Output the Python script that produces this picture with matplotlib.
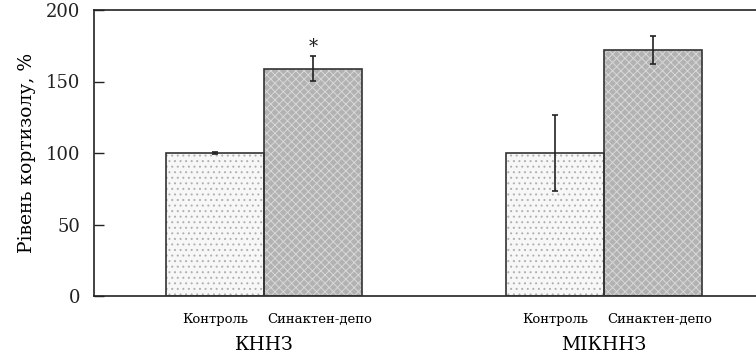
import numpy as np
import matplotlib.pyplot as plt

plt.rcParams['font.family'] = ['DejaVu Serif']
plt.rcParams['hatch.linewidth'] = 0.7

groups = ['КННЗ', 'МІКННЗ']
conditions = ['Контроль', 'Синактен-депо']
control_vals = [100, 100]
control_err = [0.6, 26.5]
depo_vals = [159, 172]
depo_err = [8.5, 9.5]
y_ticks = [0, 50, 100, 150, 200]

fig = plt.figure(figsize=(7.56, 3.58), dpi=100)
ax = fig.add_axes([94 / 756, 62 / 358, 680 / 756, 286 / 358])

x = np.arange(len(groups))
w = 0.288

# filled bars with pattern, then black outline on top
ax.bar(x - w / 2, control_vals, w, color='#f7f7f7', edgecolor='#b0b0b0',
       hatch='...', linewidth=0, zorder=2)
ax.bar(x + w / 2, depo_vals, w, color='#b2b2b2', edgecolor='#d8d8d8',
       hatch='xxxx', linewidth=0, zorder=2)
ax.bar(x - w / 2, control_vals, w, fill=False, edgecolor='#333333', linewidth=1.2, zorder=3)
ax.bar(x + w / 2, depo_vals, w, fill=False, edgecolor='#333333', linewidth=1.2, zorder=3)

ax.errorbar(x - w / 2, control_vals, yerr=control_err, fmt='none', ecolor='#222222',
            elinewidth=1.2, capsize=2, capthick=1.2, zorder=4)
ax.errorbar(x + w / 2, depo_vals, yerr=depo_err, fmt='none', ecolor='#222222',
            elinewidth=1.2, capsize=2, capthick=1.2, zorder=4)

# significance mark
ax.text(x[0] + w / 2, depo_vals[0] + depo_err[0], '*', ha='center', va='bottom',
        fontsize=13, color='#222222')

ax.set_xlim(-0.5, 1.5)
ax.set_ylim(0, 200)
ax.set_yticks(y_ticks)
ax.set_yticklabels([str(t) for t in y_ticks], fontsize=13)
ax.tick_params(axis='y', direction='in', length=7, width=1, pad=10, colors='#222222')
ax.set_ylabel('Рівень кортизолу, %', fontsize=13.5, labelpad=7)

# bar labels and group labels below axis
ax.set_xticks(np.concatenate([x - w / 2, x + w / 2 + 0.02]))
ax.set_xticklabels([conditions[0]] * len(groups) + [conditions[1]] * len(groups), fontsize=9.5)
ax.tick_params(axis='x', length=0, pad=12)
for i, g in enumerate(groups):
    ax.text(x[i], -0.14, g, transform=ax.get_xaxis_transform(), ha='center', va='top',
            fontsize=13.5)

for s in ['left', 'top', 'bottom']:
    ax.spines[s].set_linewidth(1.2)
    ax.spines[s].set_color('#222222')
ax.spines['right'].set_visible(False)

fig.savefig('out.png', dpi=100)
